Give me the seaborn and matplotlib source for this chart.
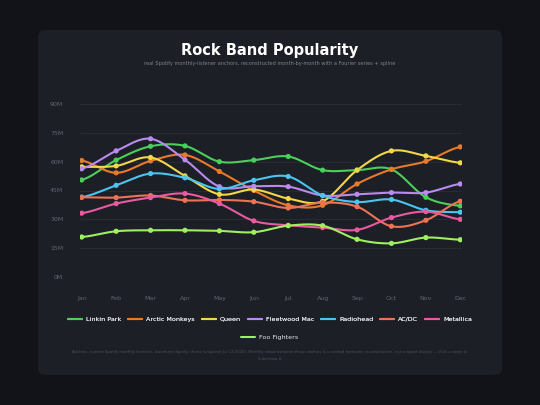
import numpy as np
import pandas as pd
import matplotlib
matplotlib.use("Agg")
import matplotlib.pyplot as plt
import seaborn as sns
from matplotlib.patches import FancyBboxPatch
from matplotlib.lines import Line2D

months = ["Jan", "Feb", "Mar", "Apr", "May", "Jun", "Jul", "Aug", "Sep", "Oct", "Nov", "Dec"]
bands = ["Linkin Park", "Arctic Monkeys", "Queen", "Fleetwood Mac", "Radiohead", "AC/DC", "Metallica", "Foo Fighters"]
colors = ["#4ccf5a", "#e87a2a", "#f0d84a", "#b98af0", "#4cc4f0", "#ec7355", "#ea5aa0", "#9ef060"]

linkin_park = [50.5, 60.8, 68.0, 68.2, 60.0, 60.8, 62.7, 55.6, 55.6, 56.0, 41.5, 37.0]
arctic_monkeys = [60.6, 54.2, 60.4, 63.5, 54.9, 45.0, 37.3, 37.3, 48.4, 56.0, 60.2, 67.7]
queen = [57.3, 57.8, 62.2, 52.6, 43.0, 45.5, 40.8, 39.4, 55.6, 65.6, 63.0, 59.4]
fleetwood_mac = [56.3, 65.6, 71.9, 61.0, 47.0, 47.2, 47.0, 42.4, 43.0, 43.9, 43.9, 48.4]
radiohead = [41.5, 47.7, 53.8, 51.6, 45.8, 50.3, 52.3, 42.4, 39.0, 40.3, 34.7, 33.7]
acdc = [41.5, 41.3, 42.4, 39.9, 40.1, 39.2, 35.9, 38.7, 36.6, 26.4, 29.5, 39.4]
metallica = [33.2, 38.2, 41.3, 43.4, 38.2, 29.2, 26.9, 25.7, 24.5, 30.9, 34.0, 30.0]
foo_fighters = [20.8, 23.8, 24.3, 24.3, 24.0, 23.3, 26.7, 26.7, 19.6, 17.5, 20.5, 19.4]
series = [linkin_park, arctic_monkeys, queen, fleetwood_mac, radiohead, acdc, metallica, foo_fighters]


def smooth(y, n=20):
    # catmull-rom spline between monthly points
    y = np.asarray(y, float)
    p = np.concatenate([[y[0]], y, [y[-1]]])
    xs, ys = [], []
    for i in range(len(y) - 1):
        p0, p1, p2, p3 = p[i], p[i + 1], p[i + 2], p[i + 3]
        t = np.linspace(0, 1, n, endpoint=False)
        v = 0.5 * (2 * p1 + (-p0 + p2) * t + (2 * p0 - 5 * p1 + 4 * p2 - p3) * t ** 2
                   + (-p0 + 3 * p1 - 3 * p2 + p3) * t ** 3)
        xs.append(i + t)
        ys.append(v)
    xs.append([len(y) - 1])
    ys.append([y[-1]])
    return np.concatenate(xs), np.concatenate(ys)


bg = "#111318"
card = "#1c1f26"
sns.set_style("dark")
fig = plt.figure(figsize=(5.4, 4.05), dpi=100, facecolor=bg)
fig.patches.append(FancyBboxPatch((38 / 540, 1 - 375 / 405), 464 / 540, 345 / 405,
                                  boxstyle="round,pad=0,rounding_size=0.015",
                                  transform=fig.transFigure, facecolor=card, edgecolor="none", zorder=-5))

ax = fig.add_axes([80 / 540, 1 - 277 / 405, 382 / 540, 173 / 405])
ax.set_zorder(2)
ax.set_facecolor(card)

for name, vals, c in zip(bands, series, colors):
    sx, sy = smooth(vals)
    sns.lineplot(x=sx, y=sy, ax=ax, color=c, linewidth=1.5, sort=False)
    sns.scatterplot(x=np.arange(12), y=vals, ax=ax, color=c, s=14, edgecolor="none", zorder=3)

ax.set_ylim(0, 90)
ax.set_xlim(-0.05, 11.05)
ax.set_yticks(np.arange(0, 91, 15))
ax.set_yticklabels([f"{v}M" for v in range(0, 91, 15)])
ax.set_xticks(range(12))
ax.set_xticklabels(months)
ax.tick_params(colors="#5f6572", labelsize=4.5, length=0)
ax.tick_params(axis="x", pad=14)
ax.tick_params(axis="y", pad=12)
ax.grid(axis="y", color="#2a2e37", linewidth=0.6)
ax.grid(axis="x", visible=False)
for s in ax.spines.values():
    s.set_visible(False)
ax.set_xlabel("")
ax.set_ylabel("")

fig.text(0.5, 1 - 50 / 405, "Rock Band Popularity", ha="center", va="center",
         color="white", fontsize=10.5, fontweight="bold")
fig.text(0.5, 1 - 63 / 405, "real Spotify monthly-listener anchors, reconstructed month-by-month with a Fourier series + spline",
         ha="center", va="center", color="#7d8390", fontsize=3.6)

handles = [Line2D([0], [0], color=c, lw=1.5) for c in colors]
leg1 = fig.legend(handles[:7], bands[:7], loc="center", bbox_to_anchor=(0.5, 1 - 319 / 405), ncol=7,
                  frameon=False, fontsize=4.6, labelcolor="#e5e7eb", handlelength=2.2, columnspacing=1.1,
                  handletextpad=0.6)
fig.legend(handles[7:], bands[7:], loc="center", bbox_to_anchor=(0.5, 1 - 337 / 405), ncol=1,
           frameon=False, fontsize=4.6, labelcolor="#e5e7eb", handlelength=2.2, handletextpad=0.6)
fig.add_artist(leg1)

fig.text(0.5, 1 - 352 / 405, "Anchors: current Spotify monthly listeners, kworb.net Spotify charts (snapshot Jul 13 2026). Monthly shape between those anchors is a seeded harmonic reconstruction, not scraped history — click a name to",
         ha="center", va="center", color="#4b5060", fontsize=2.7)
fig.text(0.5, 1 - 359 / 405, "hide/show it.", ha="center", va="center", color="#4b5060", fontsize=2.7)

fig.savefig("out.png", dpi=100, facecolor=bg)
